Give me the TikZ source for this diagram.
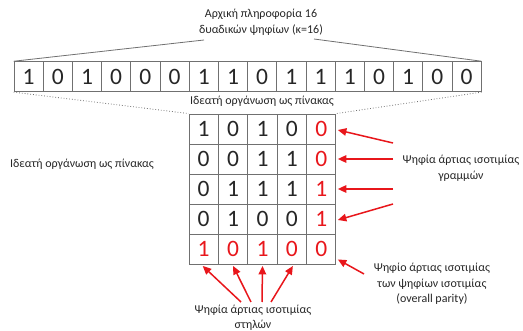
\documentclass[tikz,border=0pt]{standalone}
\usepackage{fontspec}
\setmainfont{Carlito}
\usetikzlibrary{arrows.meta}
\definecolor{gridgray}{HTML}{707070}
\definecolor{txt}{HTML}{262626}
\definecolor{parity}{HTML}{E8161B}
\tikzset{
  bitcell/.style={draw=gridgray, line width=0.9pt, minimum width=29.2pt, minimum height=30pt,
    inner sep=0pt, text=txt, font=\fontsize{23.5}{23.5}\selectfont},
  paritycell/.style={bitcell, text=parity},
  caption/.style={text=txt, font=\fontsize{12}{15.5}\selectfont, align=center, inner sep=0pt},
  redarrow/.style={draw=parity, line width=1.5pt, -{Triangle[length=8.5pt,width=7.5pt]}},
  guide/.style={draw=gridgray, line width=0.8pt},
  guidedots/.style={draw=gridgray, line width=0.8pt, dotted}
}
\begin{document}
\begin{tikzpicture}[x=1pt,y=-1pt]
\useasboundingbox (0,0) rectangle (523,331);

% 16-bit word
\foreach \b [count=\i] in {1,0,1,0,0,0,1,1,0,1,1,1,0,1,0,0} {
  \node[bitcell] (w\i) at ({14+29.2*(\i-0.5)},76.7) {\b};
}

% 4x4 data block with row / column parity
\foreach \r/\row in {1/{1,0,1,0},2/{0,0,1,1},3/{0,1,1,1},4/{0,1,0,0}} {
  \foreach \b [count=\c] in \row {
    \node[bitcell] (m\r\c) at ({189+29.4*(\c-0.5)},{114+30*(\r-0.5)}) {\b};
  }
}
\foreach \r/\b in {1/0,2/0,3/1,4/1} {
  \node[paritycell] (m\r5) at ({189+29.4*4.5},{114+30*(\r-0.5)}) {\b};
}
\foreach \b [count=\c] in {1,0,1,0,0} {
  \node[paritycell] (m5\c) at ({189+29.4*(\c-0.5)},{114+30*4.5}) {\b};
}

% captions
\node[caption] (info) at (261,22) {Αρχική πληροφορία 16\\δυαδικών ψηφίων (κ=16)};
\node[caption] (org) at (262,101) {Ιδεατή οργάνωση ως πίνακας};
\node[caption] (orgside) at (82,164) {Ιδεατή οργάνωση ως πίνακας};
\node[caption] (rowpar) at (461,168) {Ψηφία άρτιας ισοτιμίας\\γραμμών};
\node[caption] (allpar) at (432,284) {Ψηφίο άρτιας ισοτιμίας\\των ψηφίων ισοτιμίας\\(overall parity)};
\node[caption, anchor=north] (colpar) at (253,304.5) {Ψηφία άρτιας ισοτιμίας\\στηλών};

% braces from the caption to the word
\coordinate (infoL) at (204,40);
\coordinate (infoR) at (314,39);
\draw[guide] (infoL) -- (w1.north west);
\draw[guide] (infoR) -- (w16.north east);

% word folded into the block
\draw[guidedots] (w1.south west) -- (m11.north west);
\draw[guidedots] (w16.south east) -- (m15.north east);

% row parity arrows (shifts are in canvas units: positive yshift goes up)
\coordinate (ra1) at (393,143);
\coordinate (ra2) at (393,159);
\coordinate (ra3) at (393,189);
\coordinate (ra4) at (393,204);
\draw[redarrow] (ra1) -- ([xshift=1.5pt,yshift=-1pt]m15.east);
\draw[redarrow] (ra2) -- ([xshift=1.5pt]m25.east);
\draw[redarrow] (ra3) -- ([xshift=1.5pt]m35.east);
\draw[redarrow] (ra4) -- ([xshift=1.5pt,yshift=-1pt]m45.east);

% overall parity arrow
\coordinate (oa) at (364,274);
\draw[redarrow] (oa) -- ([xshift=1.5pt,yshift=5pt]m55.south east);

% column parity arrows
\coordinate (ca1) at (241,302);
\coordinate (ca2) at (251,302);
\coordinate (ca3) at (262,302);
\coordinate (ca4) at (271,302);
\draw[redarrow] (ca1) -- ([xshift=-1pt,yshift=-1.5pt]m51.south);
\draw[redarrow] (ca2) -- ([yshift=-1.5pt]m52.south);
\draw[redarrow] (ca3) -- ([yshift=-1.5pt]m53.south);
\draw[redarrow] (ca4) -- ([xshift=1pt,yshift=-1.5pt]m54.south);
\end{tikzpicture}
\end{document}
